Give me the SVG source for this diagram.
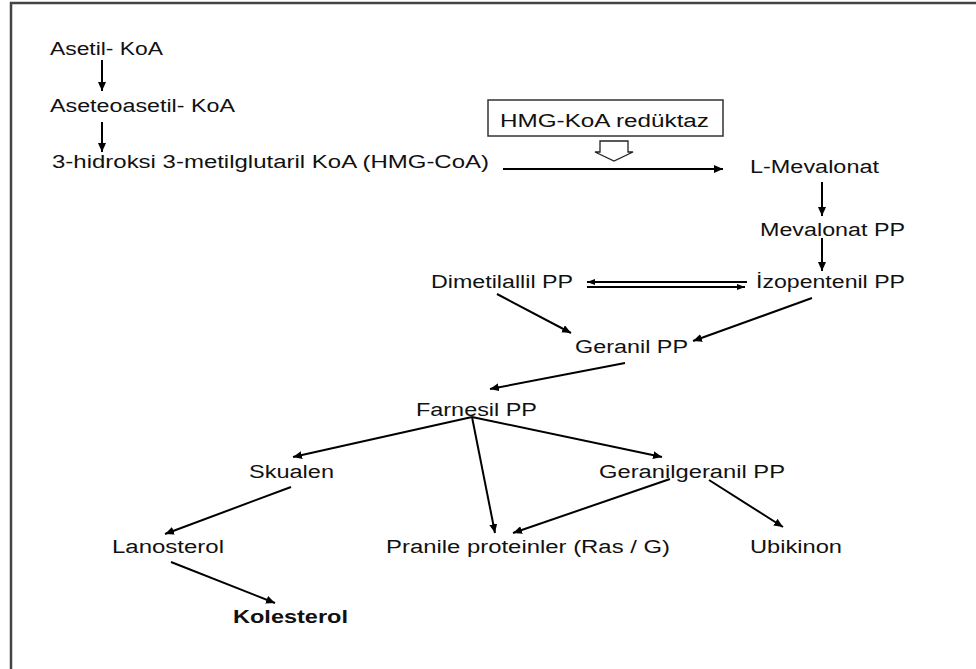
<svg xmlns="http://www.w3.org/2000/svg" width="976" height="669" viewBox="0 0 976 669">
<defs>
<marker id="ah" markerUnits="userSpaceOnUse" markerWidth="10" markerHeight="8" refX="9" refY="4" orient="auto">
<path d="M0,0 L9,4 L0,8 z" fill="#000"/>
</marker>
<marker id="ahs" markerUnits="userSpaceOnUse" markerWidth="9" markerHeight="6" refX="8" refY="3" orient="auto">
<path d="M0,0 L8,3 L0,6 z" fill="#000"/>
</marker>
<style>
text{font-family:"Liberation Sans",Arial,sans-serif;font-size:18px;fill:#111;}
.b{font-weight:bold;}
.c line{stroke:#000;stroke-width:2;marker-end:url(#ah);}
.c line.d{stroke-width:2;marker-end:url(#ahs);}
</style>
</defs>
<rect width="976" height="669" fill="#fff"/>
<path d="M11,669 V3 H976" fill="none" stroke="#444" stroke-width="2.5"/>

<g id="asetil"><text x="50" y="55" textLength="113" lengthAdjust="spacingAndGlyphs">Asetil- KoA</text></g>
<g id="aseteoasetil"><text x="50" y="112" textLength="185" lengthAdjust="spacingAndGlyphs">Aseteoasetil- KoA</text></g>
<g id="hmgcoa"><text x="52" y="168" textLength="437" lengthAdjust="spacingAndGlyphs">3-hidroksi 3-metilglutaril KoA (HMG-CoA)</text></g>
<g id="reduktaz">
<rect x="488" y="100" width="235" height="36" fill="#fff" stroke="#333" stroke-width="1.5"/>
<text x="500" y="127" textLength="209" lengthAdjust="spacingAndGlyphs">HMG-KoA redüktaz</text>
<path d="M600,141 H628 V152 H633 L614,161 L595,152 H600 Z" fill="#fff" stroke="#222" stroke-width="1.3"/>
</g>
<g id="lmevalonat"><text x="750" y="173" textLength="129" lengthAdjust="spacingAndGlyphs">L-Mevalonat</text></g>
<g id="mevalonatpp"><text x="760" y="236" textLength="145" lengthAdjust="spacingAndGlyphs">Mevalonat PP</text></g>
<g id="izopentenil"><text x="756" y="288" textLength="149" lengthAdjust="spacingAndGlyphs">İzopentenil PP</text></g>
<g id="dimetilallil"><text x="431" y="288" textLength="142" lengthAdjust="spacingAndGlyphs">Dimetilallil PP</text></g>
<g id="geranil"><text x="575" y="353" textLength="113" lengthAdjust="spacingAndGlyphs">Geranil PP</text></g>
<g id="farnesil"><text x="416" y="416" textLength="121" lengthAdjust="spacingAndGlyphs">Farnesil PP</text></g>
<g id="skualen"><text x="249" y="478" textLength="85" lengthAdjust="spacingAndGlyphs">Skualen</text></g>
<g id="geranilgeranil"><text x="599" y="478" textLength="186" lengthAdjust="spacingAndGlyphs">Geranilgeranil PP</text></g>
<g id="lanosterol"><text x="112" y="553" textLength="112" lengthAdjust="spacingAndGlyphs">Lanosterol</text></g>
<g id="pranile"><text x="386" y="553" textLength="284" lengthAdjust="spacingAndGlyphs">Pranile proteinler (Ras / G)</text></g>
<g id="ubikinon"><text x="750" y="553" textLength="92" lengthAdjust="spacingAndGlyphs">Ubikinon</text></g>
<g id="kolesterol"><text class="b" x="233" y="623" textLength="115" lengthAdjust="spacingAndGlyphs">Kolesterol</text></g>

<g id="connectors" class="c">
<line x1="102" y1="60" x2="102" y2="91"/>
<line x1="102" y1="122" x2="102" y2="152"/>
<line x1="503" y1="169" x2="723" y2="169"/>
<line x1="822" y1="182" x2="822" y2="216"/>
<line x1="822" y1="238" x2="822" y2="271"/>
<line class="d" x1="747" y1="282" x2="587" y2="282"/>
<line class="d" x1="587" y1="287" x2="745" y2="287"/>
<line x1="497" y1="294" x2="571" y2="333"/>
<line x1="812" y1="298" x2="693" y2="341"/>
<line x1="625" y1="363" x2="490" y2="389"/>
<line x1="472" y1="417" x2="293" y2="457"/>
<line x1="472" y1="417" x2="495" y2="533"/>
<line x1="472" y1="417" x2="662" y2="457"/>
<line x1="291" y1="487" x2="165" y2="534"/>
<line x1="670" y1="479" x2="513" y2="533"/>
<line x1="709" y1="480" x2="783" y2="527"/>
<line x1="171" y1="562" x2="275" y2="603"/>
</g>
</svg>
